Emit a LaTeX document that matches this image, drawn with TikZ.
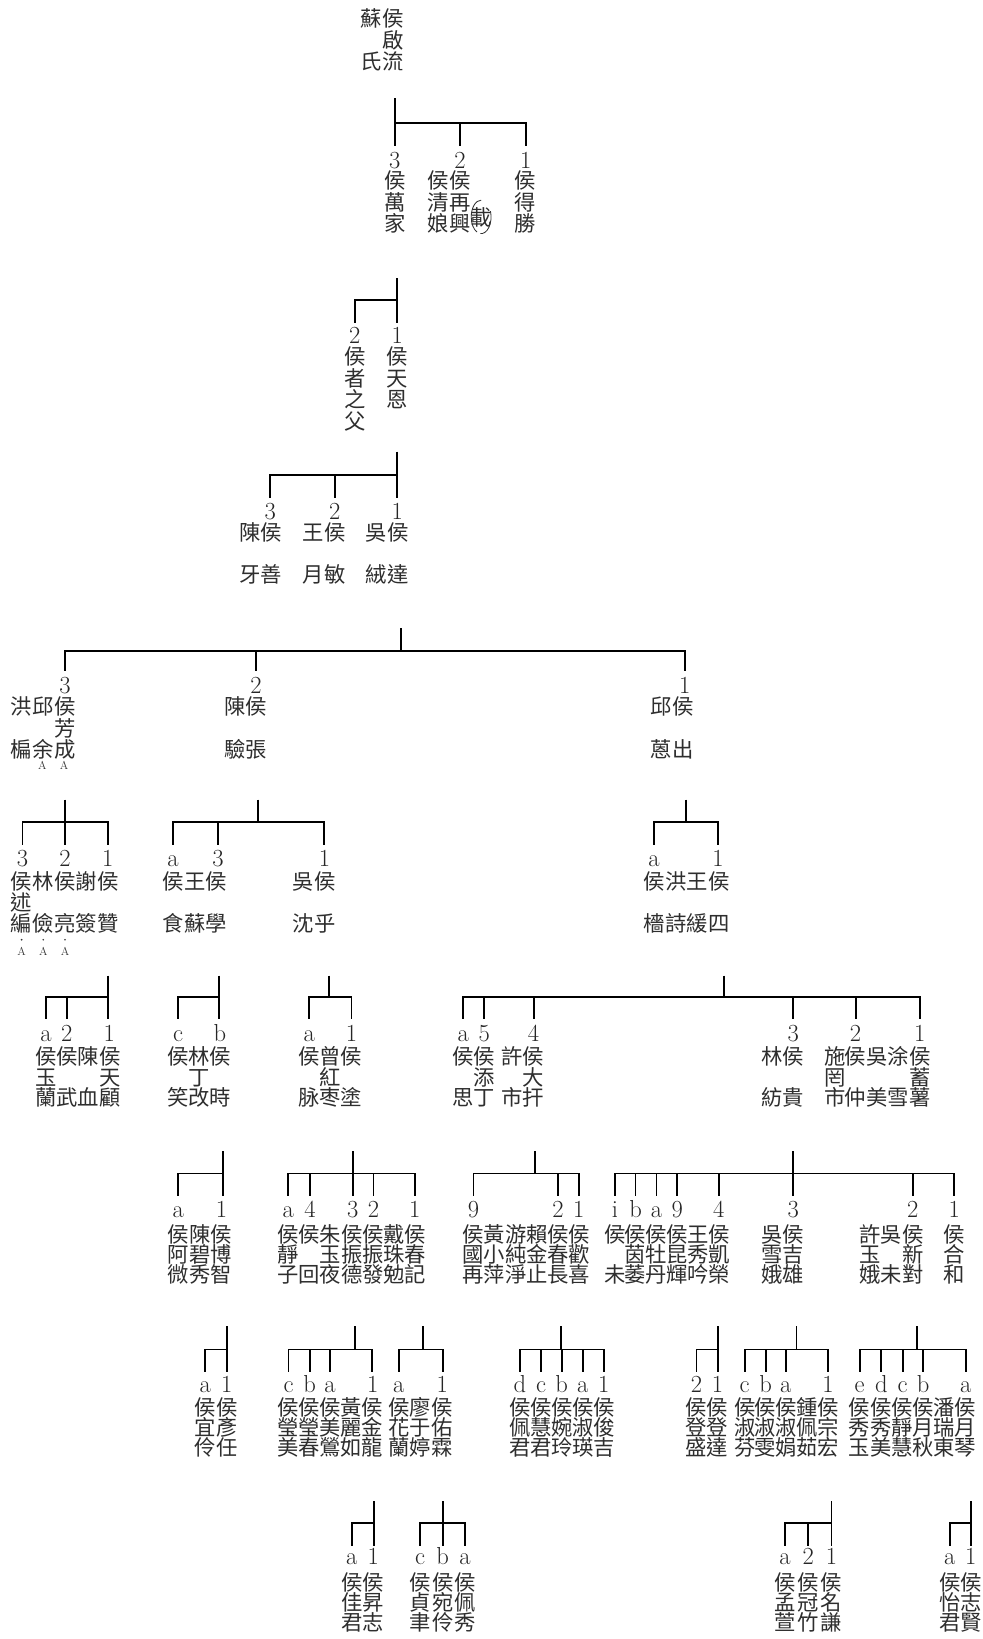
\documentclass[tikz,border=0pt]{standalone}
\usepackage{fontspec}
\newfontfamily\cjkfam{Noto Sans CJK TC}
\makeatletter
\newdimen\cjkF \cjkF=20.4pt
\newdimen\rowP \rowP=20pt
\def\vt@blank{-}
\newcommand\vtext[1]{\vbox{\offinterlineskip
  \@tfor\vt@c:=#1\do{%
    \hbox to\cjkF{\hss\vrule width0pt height\dimexpr 0.88\cjkF+(\rowP-\cjkF)/2\relax depth\dimexpr 0.12\cjkF+(\rowP-\cjkF)/2\relax
      \ifx\vt@c\vt@blank\else\vt@c\fi\hss}}}}
\makeatother
\tikzset{
  link/.style={line width=1.8pt, draw=black},
  pcol/.style={inner sep=0pt, outer sep=0pt, anchor=north, text=black!82, font=\cjkfam\fontsize{20.4}{20.4}\selectfont},
  numb/.style={inner sep=0pt, outer sep=0pt, anchor=base, text=black!85, font=\fontsize{23.5}{23.5}\selectfont},
  mk/.style={inner sep=0pt, outer sep=0pt, text=black!80, font=\fontsize{11}{11}\selectfont},
  dotmk/.style={circle, fill=black!80, inner sep=0pt, minimum size=1.8pt},
  paren/.style={line width=0.8pt, draw=black!80},
}
\newcommand\genset[6]{\gdef\gT{#1}\gdef\gH{#2}\gdef\gD{#3}\gdef\gB{#4}\gdef\gR{#5}\gdef\gP{#6}\global\rowP=#6pt\relax}
\newcommand\pcol[3]{\node[pcol] (#1) at (#2,{\gR-\gP/2}) {\vtext{#3}};}
\newcommand\nmb[3]{\node[numb] (#1) at (#2,\gB) {#3};}
\newcommand\kin[3]{%
  \coordinate (#1t) at (#2,\gT);
  \coordinate (#1s) at (#2,\gH);
  \draw[link] (#1t) -- (#1s);
  \foreach \dx [count=\dI] in {#3}{
    \coordinate (#1h\dI) at (\dx,\gH);
    \coordinate (#1d\dI) at (\dx,\gD);
    \draw[link] (#1h\dI) -- (#1d\dI);
    \xdef\lastdi{\dI}}
  \draw[link, line cap=rect] (#1h1) -- (#1h\lastdi);
}
\begin{document}
\begin{tikzpicture}[x=1pt,y=-1pt]
\fill[white] (0,0) rectangle (940,1568);
\useasboundingbox (0,0) rectangle (940,1568);

% generation 0
\genset{0}{0}{0}{0}{17.5}{20.7}
\pcol{su}{355.4}{蘇-氏}
\pcol{qiliu}{376.1}{侯啟流}

% generation 1
\genset{94}{117.3}{139.6}{161}{172.8}{20.4}
\kin{fa}{377.7}{377.7,440,503}
\nmb{fa1}{377.7}{3}\nmb{fa2}{440}{2}\nmb{fa3}{503}{1}
\pcol{wanjia}{377.7}{侯萬家}
\pcol{qingniang}{419.2}{侯清娘}
\pcol{zaixing}{440}{侯再興}
\pcol{desheng}{502.5}{侯得勝}
\node[pcol, anchor=center] (zai) at (460.3,207.5) {載};
\draw[paren] (zai.center) ++(0,-16) arc[start angle=270, end angle=115, x radius=9.5, y radius=16];
\draw[paren] (zai.center) ++(-20:9.5 and 16) arc[start angle=-20, end angle=95, x radius=9.5, y radius=16];

% generation 2
\genset{266}{286.9}{308.6}{329}{341}{20.7}
\kin{fb}{380}{339.5,380}
\nmb{fb1}{339.5}{2}\nmb{fb2}{380}{1}
\pcol{zhezhifu}{339.5}{侯者之父}
\pcol{tianen}{380}{侯天恩}

% generation 3
\genset{432}{454.2}{476.6}{496.6}{509.5}{19.8}
\kin{fc}{380}{258.5,320.2,380}
\nmb{fc1}{258.5}{3}\nmb{fc2}{320.2}{2}\nmb{fc3}{380}{1}
\pcol{chenya}{239}{陳-牙}
\pcol{houshan}{259}{侯-善}
\pcol{wangyue}{299.6}{王-月}
\pcol{houmin}{320.2}{侯-敏}
\pcol{wurong}{360}{吳-絨}
\pcol{houda}{380.5}{侯-達}

% generation 4
\genset{601}{623.2}{642.3}{663}{675.8}{20.7}
\kin{fd}{384}{62.2,244.9,655.1}
\nmb{fd1}{62.2}{3}\nmb{fd2}{244.9}{2}\nmb{fd3}{655.1}{1}
\pcol{hongpian}{20.7}{洪-楄}
\pcol{qiuyu}{41.4}{邱-余}
\pcol{fangcheng}{62.2}{侯芳成}
\pcol{chenyan}{224.7}{陳-驗}
\pcol{houzhang}{244.8}{侯-張}
\pcol{qiucong}{632.8}{邱-蒽}
\pcol{houchu}{653.5}{侯-出}
\node[mk] (ma1) at (40.5,732) {A};
\node[mk] (ma2) at (61.2,732) {A};

% generation 5
\genset{765}{786.5}{808}{829}{843}{20}
\kin{fe}{62.2}{21.5,62.2,103}
\nmb{fe1}{21.5}{3}\nmb{fe2}{62.2}{2}\nmb{fe3}{103}{1}
\pcol{shubian}{20.7}{侯述編}
\pcol{linjian}{41.4}{林-儉}
\pcol{houliang}{62.2}{侯-亮}
\pcol{xieqian}{82.9}{謝-簽}
\pcol{houzan}{103.6}{侯-贊}
\node[dotmk] (dt1) at (20.7,899) {};
\node[dotmk] (dt2) at (41.4,899) {};
\node[dotmk] (dt3) at (62.2,899) {};
\node[mk] (mb1) at (20.7,910.5) {A};
\node[mk] (mb2) at (41.4,910.5) {A};
\node[mk] (mb3) at (62.2,910.5) {A};
\kin{ff}{247}{165.5,208.8,310}
\nmb{ff1}{165.5}{a}\nmb{ff2}{208.5}{3}\nmb{ff3}{310.5}{1}
\pcol{houshi}{165.8}{侯-食}
\pcol{wangsu}{186.5}{王-蘇}
\pcol{houxue}{207.2}{侯-學}
\pcol{wushen}{290.5}{吳-沈}
\pcol{houhu}{310.8}{侯-乎}
\kin{fg}{656}{625.7,686.8}
\nmb{fg1}{625.7}{a}\nmb{fg2}{687}{1}
\pcol{houqiang}{625.7}{侯-檣}
\pcol{hongshi}{646.5}{洪-詩}
\pcol{wanghuan}{667.2}{王-緩}
\pcol{housi}{687.9}{侯-四}

% generation 6
\genset{933.4}{954}{975}{996.5}{1011}{19.5}
\kin{fh}{103.6}{44,63.8,103.6}
\nmb{fh1}{44}{a}\nmb{fh2}{63.8}{2}\nmb{fh3}{104.6}{1}
\pcol{yulan}{44}{侯玉蘭}
\pcol{houwu}{64}{侯-武}
\pcol{chenxue}{84.5}{陳-血}
\pcol{tiangu}{105}{侯天顧}
\kin{fi}{209.7}{170,209.7}
\nmb{fi1}{170.5}{c}\nmb{fi2}{210.4}{b}
\pcol{houxiao}{170.5}{侯-笑}
\pcol{lindinggai}{190.5}{林丁改}
\pcol{houshi2}{210.4}{侯-時}
\kin{fj}{314.6}{295.8,336.3}
\nmb{fj1}{295.8}{a}\nmb{fj2}{336.3}{1}
\pcol{houmai}{296}{侯-脉}
\pcol{zenghong}{315.6}{曾紅枣}
\pcol{houtu}{336.3}{侯-塗}
\kin{fk}{692.6}{443.3,463.2,510.5,759,818.5,880}
\nmb{fk1}{443.3}{a}\nmb{fk2}{463.2}{5}\nmb{fk3}{510.5}{4}\nmb{fk4}{759}{3}\nmb{fk5}{818.5}{2}\nmb{fk6}{880}{1}
\pcol{housi2}{443.3}{侯-思}
\pcol{tianding}{463.2}{侯添丁}
\pcol{xushi}{490.4}{許-市}
\pcol{dahan}{510.5}{侯大扞}
\pcol{linfang}{739}{林-紡}
\pcol{hougui}{759}{侯-貴}
\pcol{shiwang}{798.6}{施罔市}
\pcol{houzhong}{818.5}{侯-仲}
\pcol{wumei}{839.5}{吳-美}
\pcol{tuxue}{859.7}{涂-雪}
\pcol{xushu}{880}{侯蓄薯}

% generation 7
\genset{1101.3}{1122.7}{1144.4}{1165.1}{1181}{19.2}
\kin{fl}{213}{170.5,213}
\nmb{fl1}{170.5}{a}\nmb{fl2}{212}{1}
\pcol{awei}{170.5}{侯阿微}
\pcol{chenbi}{191.3}{陳碧秀}
\pcol{bozhi}{212}{侯博智}
\kin{fm}{337.9}{275.7,296.5,337.5,357.3,396.9}
\nmb{fm1}{275.7}{a}\nmb{fm2}{296.5}{4}\nmb{fm3}{337.5}{3}\nmb{fm4}{357.3}{2}\nmb{fm5}{396.9}{1}
\pcol{jingzi}{275.7}{侯靜子}
\pcol{houhui}{296}{侯-回}
\pcol{zhuyu}{316.3}{朱玉夜}
\pcol{zhende}{337.3}{侯振德}
\pcol{zhenfa}{357.3}{侯振發}
\pcol{daizhu}{377.4}{戴珠勉}
\pcol{chunji}{396.9}{侯春記}
\kin{fn}{511.9}{453,533.8,553.8}
\nmb{fn1}{453}{9}\nmb{fn2}{533.8}{2}\nmb{fn3}{553.8}{1}
\pcol{guozai}{453}{侯國再}
\pcol{huangxiao}{473.2}{黃小萍}
\pcol{youchun}{493.4}{游純淨}
\pcol{laijin}{513.6}{賴金止}
\pcol{chunchang}{533.8}{侯春長}
\pcol{huanxi}{553.8}{侯歡喜}
\kin{fo}{759}{588.2,608,628,647.8,687.6,759,873.2,913}
\nmb{fo1}{588.2}{i}\nmb{fo2}{608}{b}\nmb{fo3}{628}{a}\nmb{fo4}{647.8}{9}\nmb{fo5}{687.6}{4}\nmb{fo6}{759}{3}\nmb{fo7}{873.2}{2}\nmb{fo8}{913}{1}
\pcol{houwei}{588.2}{侯-未}
\pcol{yinwei}{608}{侯茵萎}
\pcol{mudan}{628}{侯牡丹}
\pcol{kunhui}{647.8}{侯昆輝}
\pcol{wangxiu}{667.7}{王秀吟}
\pcol{kairong}{687.6}{侯凱榮}
\pcol{wuxue}{739}{吳雪娥}
\pcol{jixiong}{759}{侯吉雄}
\pcol{xuyu}{832.7}{許玉娥}
\pcol{wuwei}{853}{吳-未}
\pcol{xindui}{873.2}{侯新對}
\pcol{hehe}{913}{侯合和}

% generation 8
\genset{1268.7}{1291}{1312.7}{1332.4}{1346.8}{19.1}
\kin{fp}{217.5}{196.5,217.5}
\nmb{fp1}{196.3}{a}\nmb{fp2}{217}{1}
\pcol{yiling}{196.3}{侯宜伶}
\pcol{yanren}{216.9}{侯彥任}
\kin{fq}{339.5}{276,296.2,315.8,356.2}
\nmb{fq1}{276}{c}\nmb{fq2}{296.2}{b}\nmb{fq3}{315.8}{a}\nmb{fq4}{356.6}{1}
\pcol{yingmei}{275.8}{侯瑩美}
\pcol{yingchun}{296}{侯瑩春}
\pcol{meiying}{315.8}{侯美鶯}
\pcol{huangli}{336.2}{黃麗如}
\pcol{jinlong}{356.4}{侯金龍}
\kin{fr}{404.5}{381.5,423.5}
\nmb{fr1}{381.5}{a}\nmb{fr2}{423}{1}
\pcol{hualan}{381.5}{侯花蘭}
\pcol{liaoyu}{402.3}{廖于婷}
\pcol{youlin}{422.8}{侯佑霖}
\kin{fs}{537.1}{497.3,517.6,537.4,557.6,577.6}
\nmb{fs1}{497.3}{d}\nmb{fs2}{517.6}{c}\nmb{fs3}{537.4}{b}\nmb{fs4}{557.6}{a}\nmb{fs5}{577.6}{1}
\pcol{peijun}{497.3}{侯佩君}
\pcol{huijun}{517.4}{侯慧君}
\pcol{wanling}{537.4}{侯婉玲}
\pcol{shuying}{557.5}{侯淑瑛}
\pcol{junji}{577.6}{侯俊吉}
\kin{ft}{687}{666.3,686.5}
\nmb{ft1}{666.3}{2}\nmb{ft2}{686.5}{1}
\pcol{dengsheng}{666.3}{侯登盛}
\pcol{dengda}{686.5}{侯登達}
\kin{fu}{762}{712.4,732.4,751.8,792.2}
\nmb{fu1}{712.4}{c}\nmb{fu2}{732.4}{b}\nmb{fu3}{751.8}{a}\nmb{fu4}{792.2}{1}
\pcol{shufen}{712.4}{侯淑芬}
\pcol{shuwen}{732.2}{侯淑雯}
\pcol{shujuan}{751.8}{侯淑娟}
\pcol{zhongpei}{771.9}{鍾佩茹}
\pcol{zonghong}{792}{侯宗宏}
\kin{fv}{877.6}{822.4,843.2,863.6,883.2,923.8}
\nmb{fv1}{822.4}{e}\nmb{fv2}{843.2}{d}\nmb{fv3}{863.6}{c}\nmb{fv4}{883.2}{b}\nmb{fv5}{923.8}{a}
\pcol{xiuyu}{822.4}{侯秀玉}
\pcol{xiumei}{843}{侯秀美}
\pcol{jinghui}{863.4}{侯靜慧}
\pcol{yueqiu}{883.4}{侯月秋}
\pcol{panrui}{903.6}{潘瑞東}
\pcol{yueqin}{923.8}{侯月琴}

% generation 9
\genset{1436}{1456.8}{1479}{1496.6}{1514.1}{19.1}
\kin{fw}{357.5}{337,357.5}
\nmb{fw1}{336.5}{a}\nmb{fw2}{357}{1}
\pcol{jiajun}{336.5}{侯佳君}
\pcol{shengzhi}{357}{侯昇志}
\kin{fx}{423.5}{402,423.5,444.8}
\nmb{fx1}{402}{c}\nmb{fx2}{423.5}{b}\nmb{fx3}{444.8}{a}
\pcol{zhenyu}{402}{侯貞聿}
\pcol{wanling2}{423.5}{侯宛伶}
\pcol{peixiu}{444.8}{侯佩秀}
\kin{fy}{795.5}{751,773.2,795.5}
\nmb{fy1}{751}{a}\nmb{fy2}{773.2}{2}\nmb{fy3}{795.5}{1}
\pcol{mengxuan}{751}{侯孟萱}
\pcol{guanzhu}{773.2}{侯冠竹}
\pcol{mingqian}{795.3}{侯名謙}
\kin{fz}{929}{908.8,929}
\nmb{fz1}{908.6}{a}\nmb{fz2}{928.6}{1}
\pcol{yijun}{908.6}{侯怡君}
\pcol{zhixian}{928.8}{侯志賢}
\end{tikzpicture}
\end{document}
